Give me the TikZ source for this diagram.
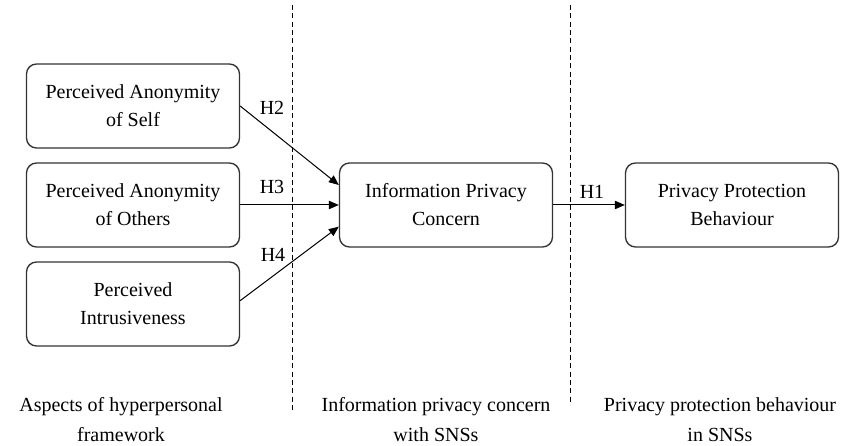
\documentclass[tikz,border=0pt]{standalone}
\usepackage{fontspec}
\setmainfont{Liberation Serif}
\usetikzlibrary{arrows.meta}
\tikzset{
	factor/.style={draw=black!80, line width=0.8pt, rounded corners=6pt, minimum width=127.8pt, minimum height=50.4pt, align=center, font=\fontsize{12}{16.8}\selectfont},
	hyp/.style={-{Triangle[length=6pt,width=5pt]}, line width=0.6pt},
	stage/.style={align=center, font=\fontsize{12}{18}\selectfont},
	divider/.style={dash pattern=on 3pt off 2pt, line width=0.6pt}
}
\begin{document}
\begin{tikzpicture}[x=0.6pt, y=-0.6pt]
\useasboundingbox (0,0) rectangle (847,446);
% factors
\node[factor] (self) at (133,106) {Perceived Anonymity\\of Self};
\node[factor] (others) at (133,205) {Perceived Anonymity\\of Others};
\node[factor] (intr) at (133,304) {Perceived\\Intrusiveness};
\node[factor] (conc) at (446,205) {Information Privacy\\Concern};
\node[factor] (prot) at (732,205) {Privacy Protection\\Behaviour};
% dividers
\coordinate (d1top) at (292,5);
\coordinate (d1bot) at (292,412);
\coordinate (d2top) at (570,5);
\coordinate (d2bot) at (570,405);
\draw[divider] (d1top) -- (d1bot);
\draw[divider] (d2top) -- (d2bot);
% hypotheses
\draw[hyp] (self.east) -- ([yshift=12pt]conc.west);
\draw[hyp] (others.east) -- (conc.west);
\draw[hyp] ([yshift=2pt]intr.east) -- ([yshift=-13pt]conc.west);
\draw[hyp] (conc.east) -- (prot.west);
\node (h2) at (272,108) {\fontsize{12}{14}\selectfont H2};
\node (h3) at (272,187) {\fontsize{12}{14}\selectfont H3};
\node (h4) at (273,255) {\fontsize{12}{14}\selectfont H4};
\node (h1) at (592,192) {\fontsize{12}{14}\selectfont H1};
% stages
\node[stage] (s1) at (121,420) {Aspects of hyperpersonal\\framework};
\node[stage] (s2) at (436,420) {Information privacy concern\\with SNSs};
\node[stage] (s3) at (720,420) {Privacy protection behaviour\\in SNSs};
\end{tikzpicture}
\end{document}
